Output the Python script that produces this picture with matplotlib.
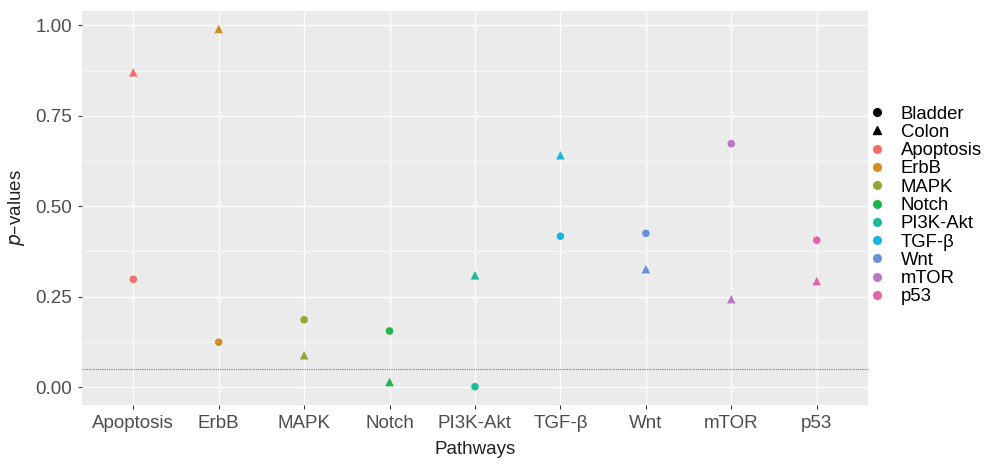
import matplotlib
matplotlib.use("Agg")
import matplotlib.pyplot as plt
from matplotlib.lines import Line2D
import numpy as np

plt.rcParams['font.family'] = ['Liberation Sans', 'DejaVu Sans']

pathways = ['Apoptosis', 'ErbB', 'MAPK', 'Notch', 'PI3K-Akt', 'TGF-β', 'Wnt', 'mTOR', 'p53']
bladder = [0.298, 0.124, 0.186, 0.155, 0.001, 0.417, 0.425, 0.673, 0.406]
colon = [0.870, 0.990, 0.088, 0.014, 0.309, 0.641, 0.326, 0.243, 0.293]
colors = ['#F2706B', '#D08F1E', '#93A833', '#1DB449', '#1EB99A',
          '#18B4E0', '#6890D8', '#B57AC2', '#E462AA']
threshold = 0.05

fig = plt.figure(figsize=(9.87, 4.67), dpi=100)
ax = fig.add_axes([0.0831, 0.1328, 0.7963, 0.8436])
ax.set_facecolor('#EBEBEB')

x = np.arange(len(pathways))
ax.scatter(x, bladder, c=colors, marker='o', s=30, linewidths=0, zorder=3)
ax.scatter(x, colon, c=colors, marker='^', s=38, linewidths=0, zorder=3)
ax.axhline(threshold, color='#7a7a7a', linestyle=(0, (1, 1)), linewidth=0.8, zorder=2)

ax.set_xlim(-0.6, len(pathways) - 0.4)
ax.set_ylim(-0.0495, 1.0395)
ax.set_xticks(x)
ax.set_xticklabels(pathways)
ax.set_yticks([0, 0.25, 0.5, 0.75, 1.0])
ax.set_yticklabels(['0.00', '0.25', '0.50', '0.75', '1.00'])
ax.set_yticks([0.125, 0.375, 0.625, 0.875], minor=True)

ax.grid(which='major', color='white', linewidth=1.0, zorder=0)
ax.grid(which='minor', axis='y', color='white', linewidth=0.5, zorder=0)
ax.set_axisbelow(True)
for s in ax.spines.values():
    s.set_visible(False)
ax.tick_params(which='major', length=3, color='#333333', labelsize=13.5,
               labelcolor='#4D4D4D', pad=4)
ax.tick_params(which='minor', length=0)

ax.set_xlabel('Pathways', fontsize=13.5, color='#222222', labelpad=7)
ax.set_ylabel('$p$–values', fontsize=13.5, color='#222222', labelpad=6)

handles = [Line2D([], [], marker='o', color='black', linestyle='', markersize=5.5, label='Bladder'),
           Line2D([], [], marker='^', color='black', linestyle='', markersize=6, label='Colon')]
for name, col in zip(pathways, colors):
    handles.append(Line2D([], [], marker='o', color=col, linestyle='',
                          markersize=5.5, label=name))
leg = fig.legend(handles=handles, loc='center left', bbox_to_anchor=(0.8815, 0.56),
                 frameon=False, fontsize=13.3, handlelength=0.8, handletextpad=0.85,
                 labelspacing=0.07, borderaxespad=0, borderpad=0)

fig.savefig('out.png', dpi=100)
